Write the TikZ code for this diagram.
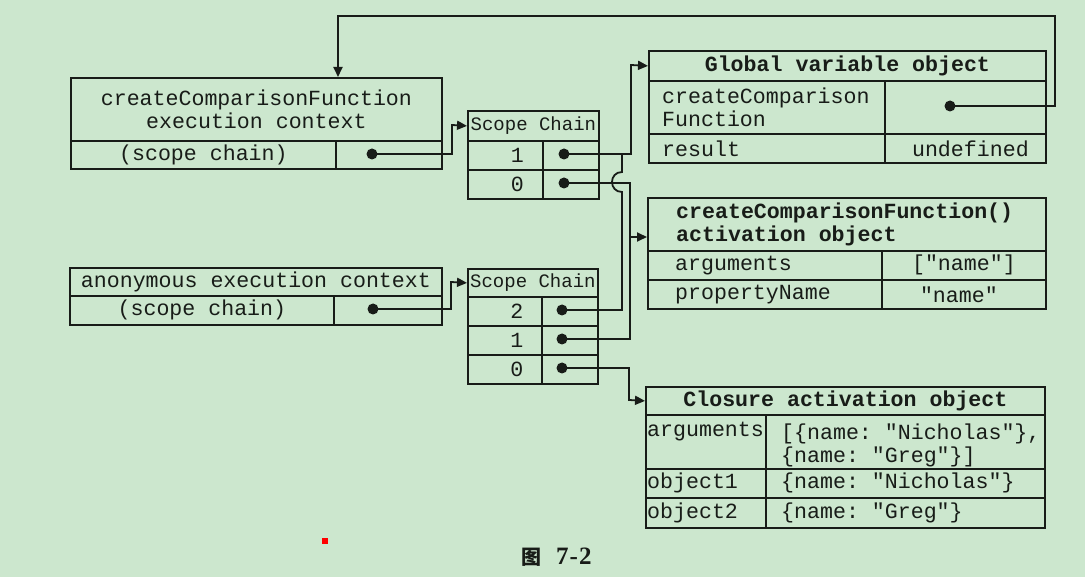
\documentclass[tikz,border=0pt]{standalone}
\usepackage{fontspec}
\setmainfont{Liberation Serif}
\setmonofont{Liberation Mono}
\newfontfamily\cjkfont{Noto Sans CJK SC}
\usetikzlibrary{arrows.meta,calc}
\definecolor{paper}{RGB}{204,231,206}
\definecolor{ink}{RGB}{24,28,24}

\begin{document}
\begin{tikzpicture}[x=1pt,y=-1pt,
  cell/.style={draw=ink,line width=1.8pt,inner sep=0pt,anchor=north west},
  txt/.style={font=\fontsize{21.6}{23}\selectfont\ttfamily,inner sep=0pt,text=ink},
  head/.style={txt,font=\fontsize{21.6}{23}\selectfont\ttfamily\bfseries},
  small/.style={txt,font=\fontsize{19}{21}\selectfont\ttfamily},
  dot/.style={circle,fill=ink,inner sep=0pt,minimum size=11pt},
  link/.style={draw=ink,line width=1.8pt},
  arr/.style={link,-{Triangle[length=10pt,width=9pt]}},
]
\fill[paper] (0,0) rectangle (1085,577);
\useasboundingbox (0,0) rectangle (1085,577);

% --- createComparisonFunction execution context
\node[cell,minimum width=371pt,minimum height=63pt] (ecAh) at (70,77) {};
\node[cell,minimum width=265pt,minimum height=28pt] (ecAl) at (70,140) {};
\node[cell,minimum width=106pt,minimum height=28pt] (ecAp) at (335,140) {};
\node[txt,align=center] (ecAt) at (ecAh.center) {createComparisonFunction\\execution context};
\node[txt] (ecAs) at (ecAl.center) {(scope chain)};
\node[dot] (dA) at (372,154) {};

% --- its scope chain
\node[cell,minimum width=131pt,minimum height=30pt] (scAh) at (467,110) {};
\node[cell,minimum width=75pt,minimum height=29pt] (scA1) at (467,140) {};
\node[cell,minimum width=56pt,minimum height=29pt] (scA1p) at (542,140) {};
\node[cell,minimum width=75pt,minimum height=29pt] (scA0) at (467,169) {};
\node[cell,minimum width=56pt,minimum height=29pt] (scA0p) at (542,169) {};
\node[small] (scAt) at (scAh.center) {Scope Chain};
\node[txt] (scA1n) at ([xshift=12pt]scA1.center) {1};
\node[txt] (scA0n) at ([xshift=12pt]scA0.center) {0};
\node[dot] (dA1) at (564,154) {};
\node[dot] (dA0) at (564,183) {};

% --- anonymous execution context
\node[cell,minimum width=372pt,minimum height=28pt] (ecBh) at (69,267) {};
\node[cell,minimum width=264pt,minimum height=29pt] (ecBl) at (69,295) {};
\node[cell,minimum width=108pt,minimum height=29pt] (ecBp) at (333,295) {};
\node[txt] (ecBt) at (ecBh.center) {anonymous execution context};
\node[txt] (ecBs) at (ecBl.center) {(scope chain)};
\node[dot] (dB) at (373,309) {};

% --- its scope chain
\node[cell,minimum width=130pt,minimum height=28pt] (scBh) at (467,268) {};
\node[cell,minimum width=74pt,minimum height=29pt] (scB2) at (467,296) {};
\node[cell,minimum width=56pt,minimum height=29pt] (scB2p) at (541,296) {};
\node[cell,minimum width=74pt,minimum height=29pt] (scB1) at (467,325) {};
\node[cell,minimum width=56pt,minimum height=29pt] (scB1p) at (541,325) {};
\node[cell,minimum width=74pt,minimum height=29pt] (scB0) at (467,354) {};
\node[cell,minimum width=56pt,minimum height=29pt] (scB0p) at (541,354) {};
\node[small] (scBt) at (scBh.center) {Scope Chain};
\node[txt] (scB2n) at ([xshift=12pt]scB2.center) {2};
\node[txt] (scB1n) at ([xshift=12pt]scB1.center) {1};
\node[txt] (scB0n) at ([xshift=12pt]scB0.center) {0};
\node[dot] (dB2) at (562,310) {};
\node[dot] (dB1) at (562,339) {};
\node[dot] (dB0) at (562,368) {};

% --- global variable object
\node[cell,minimum width=397pt,minimum height=30pt] (gvoh) at (648,50) {};
\node[cell,minimum width=236pt,minimum height=53pt] (gvo1) at (648,80) {};
\node[cell,minimum width=161pt,minimum height=53pt] (gvo1p) at (884,80) {};
\node[cell,minimum width=236pt,minimum height=29pt] (gvo2) at (648,133) {};
\node[cell,minimum width=161pt,minimum height=29pt] (gvo2v) at (884,133) {};
\node[head] (gvot) at (gvoh.center) {Global variable object};
\node[txt,align=left,anchor=west] (gvo1t) at ([xshift=14pt]gvo1.west) {createComparison\\Function};
\node[txt,anchor=west] (gvo2t) at ([xshift=14pt]gvo2.west) {result};
\node[txt] (gvo2u) at ([xshift=5pt]gvo2v.center) {undefined};
\node[dot] (dG) at (950,106) {};

% --- createComparisonFunction() activation object
\node[cell,minimum width=398pt,minimum height=53pt] (acth) at (647,197) {};
\node[cell,minimum width=234pt,minimum height=29pt] (act1) at (647,250) {};
\node[cell,minimum width=164pt,minimum height=29pt] (act1v) at (881,250) {};
\node[cell,minimum width=234pt,minimum height=29pt] (act2) at (647,279) {};
\node[cell,minimum width=164pt,minimum height=29pt] (act2v) at (881,279) {};
\node[head,align=left,anchor=west] (actt) at ([xshift=29pt]acth.west) {createComparisonFunction()\\activation object};
\node[txt,anchor=west] (act1t) at ([xshift=28pt]act1.west) {arguments};
\node[txt] (act1u) at (act1v.center) {["name"]};
\node[txt,anchor=west] (act2t) at ([xshift=28pt]act2.west) {propertyName};
\node[txt] (act2u) at ([xshift=-5pt]act2v.center) {"name"};

% --- closure activation object
\node[cell,minimum width=399pt,minimum height=28pt] (cloh) at (645,386) {};
\node[cell,minimum width=120pt,minimum height=54pt] (clo1) at (645,414) {};
\node[cell,minimum width=279pt,minimum height=54pt] (clo1v) at (765,414) {};
\node[cell,minimum width=120pt,minimum height=29pt] (clo2) at (645,468) {};
\node[cell,minimum width=279pt,minimum height=29pt] (clo2v) at (765,468) {};
\node[cell,minimum width=120pt,minimum height=30pt] (clo3) at (645,497) {};
\node[cell,minimum width=279pt,minimum height=30pt] (clo3v) at (765,497) {};
\node[head] (clot) at (cloh.center) {Closure activation object};
\node[txt,anchor=west] (clo1t) at (647,432) {arguments};
\node[txt,align=left,anchor=west] (clo1u) at (781,445) {[\{name: "Nicholas"\},\\\{name: "Greg"\}]};
\node[txt,anchor=west] (clo2t) at ([xshift=2pt]clo2.west) {object1};
\node[txt,anchor=west] (clo2u) at ([xshift=16pt]clo2v.west) {\{name: "Nicholas"\}};
\node[txt,anchor=west] (clo3t) at ([xshift=2pt]clo3.west) {object2};
\node[txt,anchor=west] (clo3u) at ([xshift=16pt]clo3v.west) {\{name: "Greg"\}};

% --- bends of the connectors
\coordinate (kA) at (452,125);
\coordinate (kB) at (451,282);
\coordinate (kG) at (631,65);
\coordinate (kC) at (630,237);
\coordinate (kD) at (629,400);
\coordinate (hopLo) at (622,192);
\coordinate (hopHi) at (622,172);
\coordinate (jG) at (622,154);
\coordinate (t1) at (1055,16);
\coordinate (t2) at (338,16);

% --- connectors
\draw[arr] (dA.center) -| (kA) -- (scAh.west);
\draw[arr] (dB.center) -| (kB) -- (scBh.west);
\draw[arr] (dA1.center) -| (kG) -- (gvoh.west);
\draw[arr] (dA0.center) -| (kC) -- (kC -| acth.west);
\draw[link] (dB1.center) -| (kC);
\draw[arr] (dB0.center) -| (kD) -- (cloh.west);
\draw[link] (dB2.center) -| (hopLo) .. controls +(-13.3,0) and +(-13.3,0) .. (hopHi) -- (jG);
\draw[arr] (dG.center) -| (t1) -- (t2) -- (t2 |- ecAh.north);

% --- caption
\node[fill=red,inner sep=0pt,minimum size=6pt] (spot) at (325,541) {};
\node[inner sep=0pt,text=ink,anchor=west] (cap) at (521,557)
  {{\cjkfont\bfseries\fontsize{20}{22}\selectfont 图}\hspace{15pt}{\bfseries\fontsize{25}{28}\selectfont 7\hspace{1pt}-\hspace{1pt}2}};
\end{tikzpicture}
\end{document}
